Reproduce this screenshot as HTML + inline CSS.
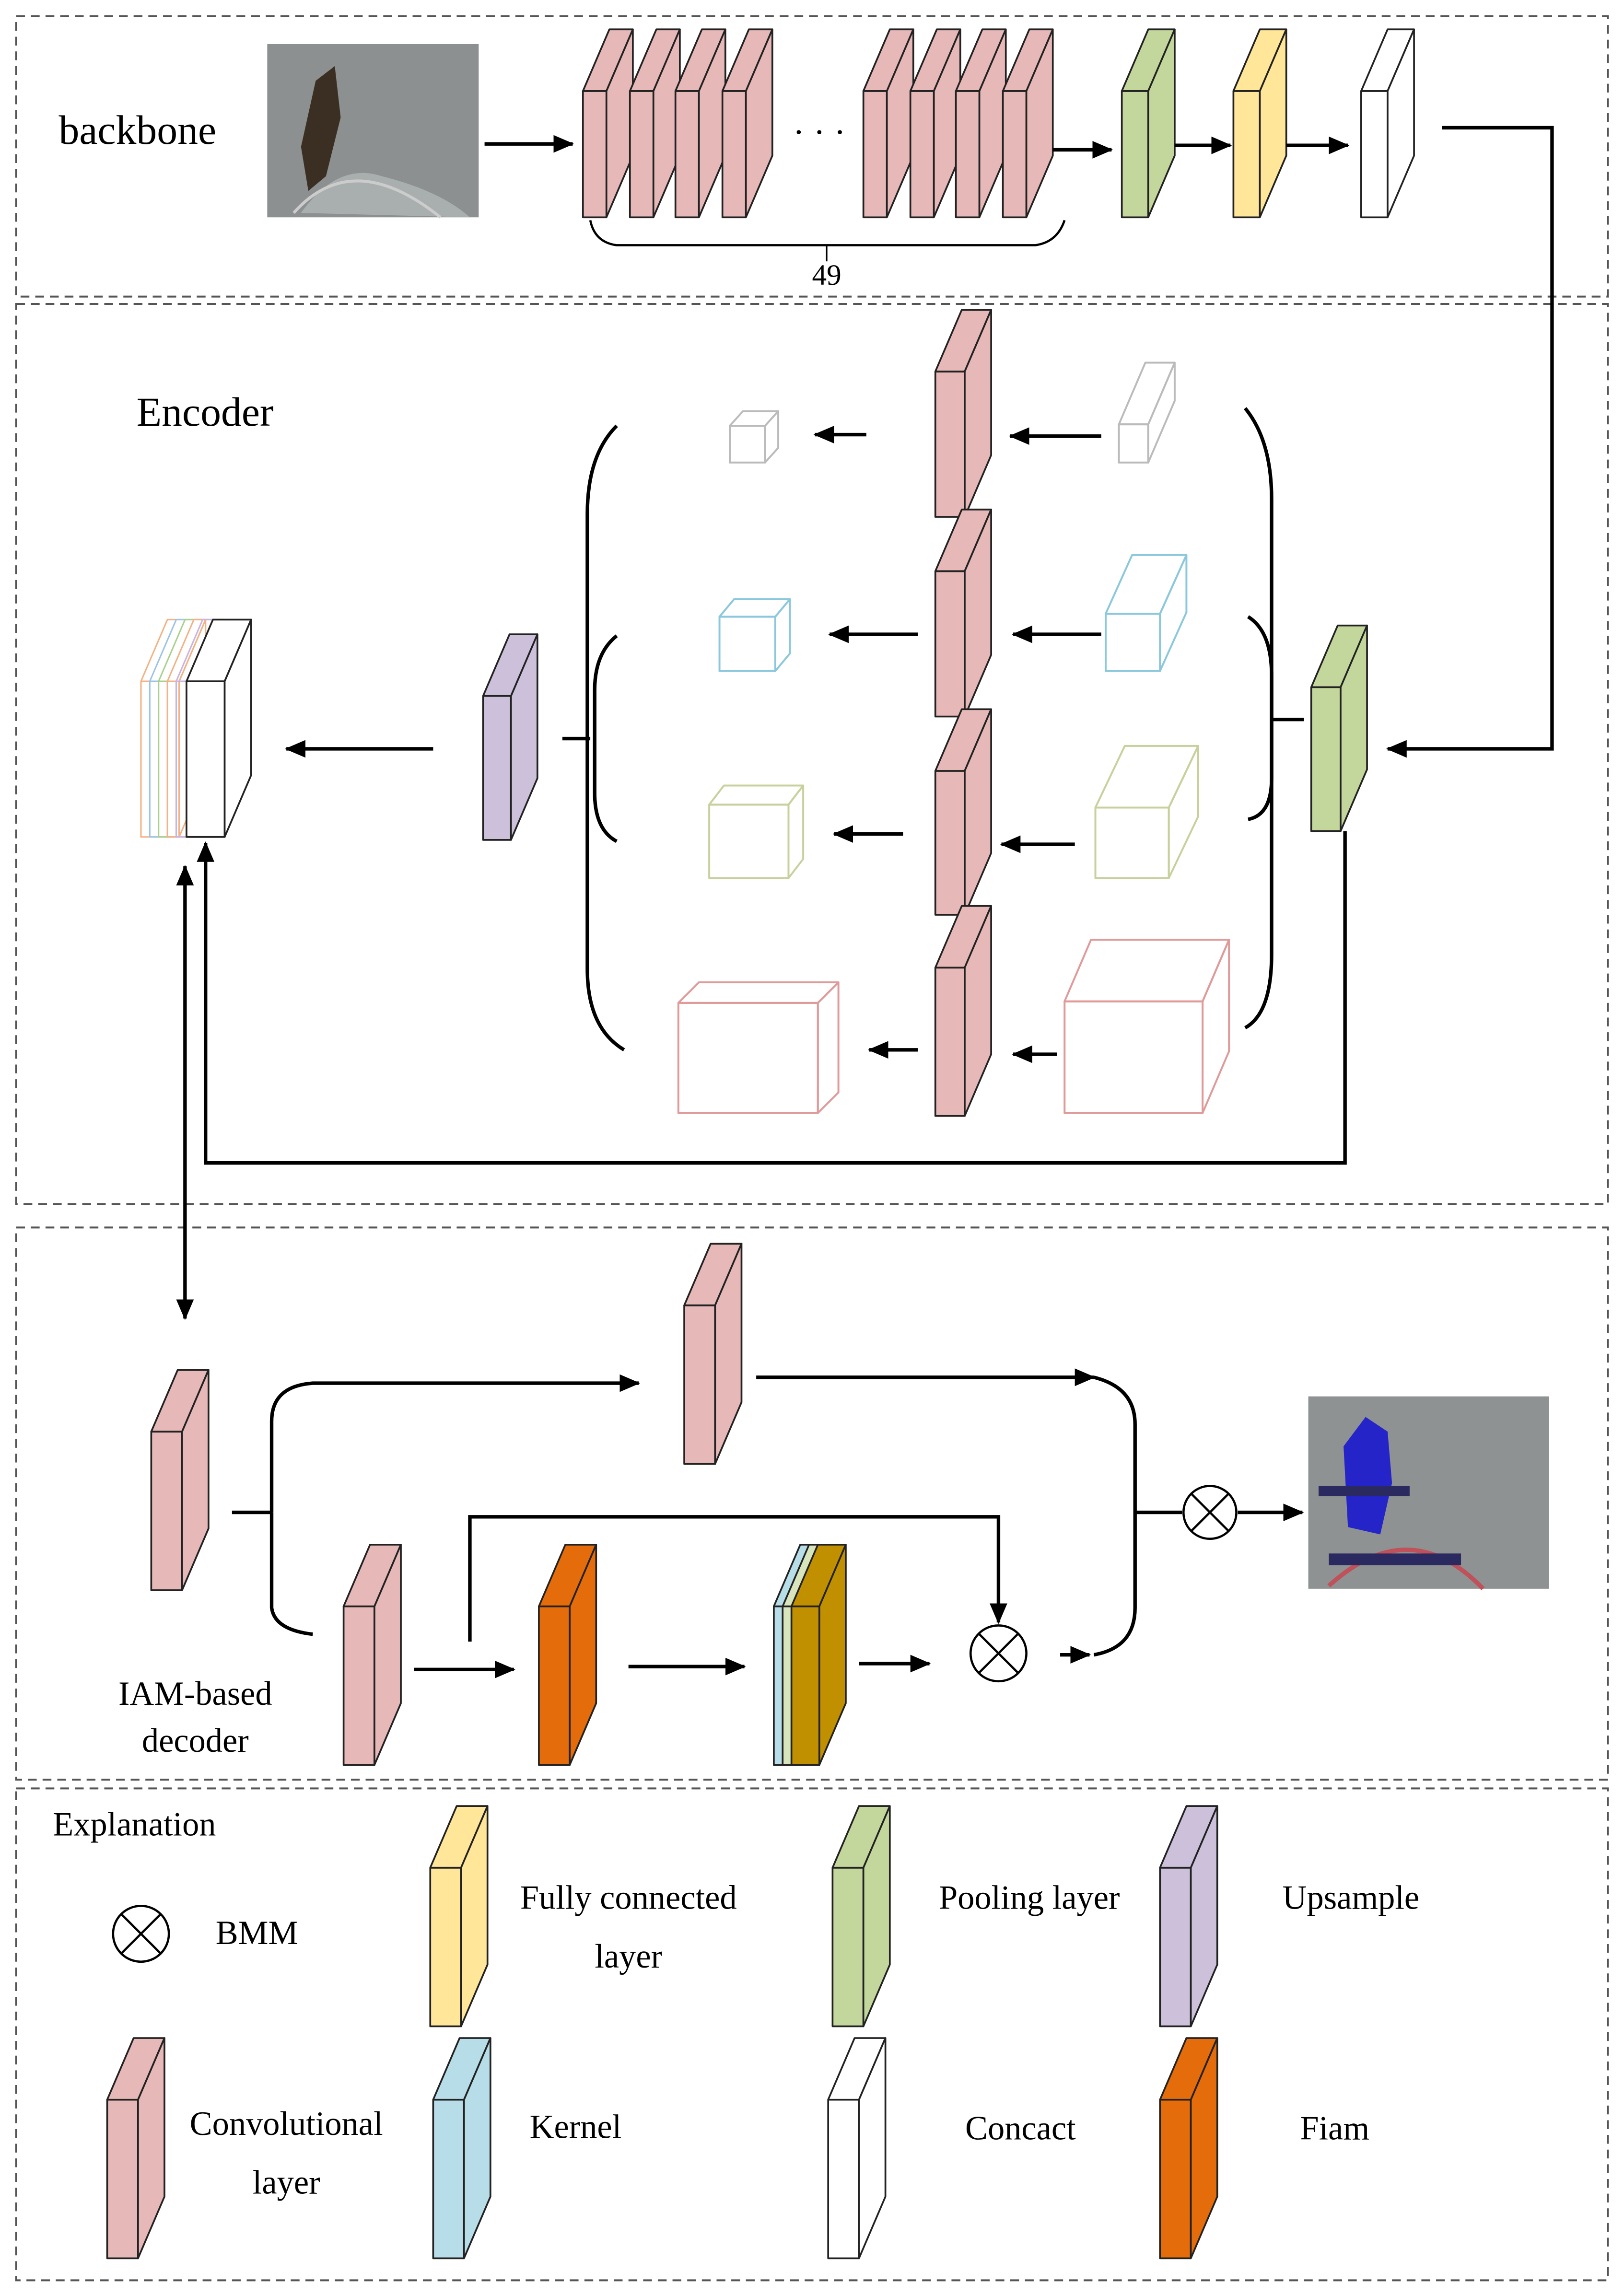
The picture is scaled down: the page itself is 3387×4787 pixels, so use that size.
<!DOCTYPE html>
<html><head><meta charset="utf-8"><style>html,body{margin:0;padding:0;background:#fff}svg{display:block}</style></head>
<body>
<svg id="s" xmlns="http://www.w3.org/2000/svg" width="3387" height="4787" viewBox="0 0 1106 1563" preserveAspectRatio="none" font-family="Liberation Serif, serif">
<defs>
<marker id="a" markerWidth="10" markerHeight="10" refX="9" refY="5" orient="auto" markerUnits="userSpaceOnUse" viewBox="0 0 10 10"><path d="M0,0 L10,5 L0,10 z" fill="#000"/></marker>
<marker id="a2" markerWidth="14" markerHeight="14" refX="13" refY="7" orient="auto" markerUnits="userSpaceOnUse" viewBox="0 0 14 14"><path d="M0,1 L14,7 L0,13 z" fill="#000"/></marker>
</defs>
<g fill="none" stroke="#555" stroke-width="1.3" stroke-dasharray="6,4">
<rect x="11" y="11" width="1084" height="191"/>
<rect x="11" y="207" width="1084" height="613"/>
<rect x="11" y="836" width="1084" height="376"/>
<rect x="11" y="1218" width="1084" height="335"/>
</g>
<!-- images -->
<rect x="182" y="30" width="144" height="118" fill="#8c9090"/>
<path d="M205,145 Q230,110 260,120 Q300,130 320,148 Z" fill="#a9aeae"/>
<path d="M215,55 L228,45 L232,80 L222,120 L210,130 L205,100 Z" fill="#3b2e22"/>
<path d="M200,145 Q240,100 300,148" stroke="#ccc" fill="none" stroke-width="2"/>
<rect x="891" y="951" width="164" height="131" fill="#8e9292"/>
<path d="M915,985 L930,965 L945,975 L948,1010 L940,1045 L918,1040 Z" fill="#2424c8"/>
<path d="M905,1080 Q960,1030 1010,1082" stroke="#c0505a" fill="none" stroke-width="3"/>
<rect x="905" y="1058" width="90" height="8" fill="#2a2a60"/>
<rect x="898" y="1012" width="62" height="7" fill="#2a2a60"/>
<g id="shapes"></g>
<g fill="none" stroke="#000" stroke-width="2.4">
<line x1="330" y1="98" x2="390" y2="98" marker-end="url(#a2)"/>
<line x1="717" y1="102" x2="757" y2="102" marker-end="url(#a2)"/>
<line x1="800" y1="99" x2="838" y2="99" marker-end="url(#a2)"/>
<line x1="876" y1="99" x2="918" y2="99" marker-end="url(#a2)"/>
<polyline points="982,87 1057,87 1057,510 945,510" marker-end="url(#a2)"/>
<path d="M402,150 Q405,165 420,167 L705,167 Q720,165 725,150" stroke-width="1.5"/>
<line x1="563" y1="167" x2="563" y2="178" stroke-width="1"/>
<line x1="590" y1="296" x2="555" y2="296" marker-end="url(#a2)"/>
<line x1="750" y1="297" x2="688" y2="297" marker-end="url(#a2)"/>
<line x1="625" y1="432" x2="565" y2="432" marker-end="url(#a2)"/>
<line x1="750" y1="432" x2="690" y2="432" marker-end="url(#a2)"/>
<line x1="615" y1="568" x2="568" y2="568" marker-end="url(#a2)"/>
<line x1="732" y1="575" x2="682" y2="575" marker-end="url(#a2)"/>
<line x1="625" y1="715" x2="592" y2="715" marker-end="url(#a2)"/>
<line x1="720" y1="718" x2="690" y2="718" marker-end="url(#a2)"/>
<path d="M420,290 Q400,310 400,350 L400,660 Q400,700 425,715"/>
<path d="M420,433 Q405,445 405,470 L405,540 Q405,565 420,573"/>
<line x1="383" y1="503" x2="402" y2="503"/>
<path d="M848,278 Q866,300 866,340 L866,650 Q866,690 848,700"/>
<path d="M850,420 Q866,430 866,460 L866,530 Q866,555 850,558"/>
<line x1="866" y1="490" x2="888" y2="490"/>
<line x1="295" y1="510" x2="195" y2="510" marker-end="url(#a2)"/>
<polyline points="916,566 916,792 140,792 140,574" marker-end="url(#a2)"/>
<line x1="126" y1="600" x2="126" y2="898" marker-end="url(#a2)"/>
<line x1="126" y1="600" x2="126" y2="590" marker-end="url(#a2)"/>
<line x1="158" y1="1030" x2="185" y2="1030"/>
<path d="M185,1030 L185,968 Q185,944 213,942 L435,942" marker-end="url(#a2)"/>
<path d="M185,1030 L185,1095 Q187,1110 213,1113"/>
<line x1="515" y1="938" x2="745" y2="938" marker-end="url(#a2)"/>
<path d="M745,938 Q773,945 773,970 L773,1095 Q773,1122 745,1127"/>
<line x1="722" y1="1127" x2="742" y2="1127" marker-end="url(#a2)"/>
<line x1="773" y1="1030" x2="805" y2="1030"/>
<line x1="843" y1="1030" x2="887" y2="1030" marker-end="url(#a2)"/>
<line x1="282" y1="1137" x2="350" y2="1137" marker-end="url(#a2)"/>
<line x1="428" y1="1135" x2="507" y2="1135" marker-end="url(#a2)"/>
<line x1="585" y1="1133" x2="633" y2="1133" marker-end="url(#a2)"/>
<polyline points="320,1118 320,1033 680,1033 680,1105" marker-end="url(#a2)"/>
</g>
<g fill="#fff" stroke="#000" stroke-width="1.5">
<circle cx="824" cy="1030" r="18"/><circle cx="680" cy="1126" r="19"/><circle cx="96" cy="1317" r="19"/>
</g>
<g stroke="#000" stroke-width="1.5">
<path d="M811,1017 L837,1043 M837,1017 L811,1043"/>
<path d="M667,1113 L693,1139 M693,1113 L667,1139"/>
<path d="M83,1304 L109,1330 M109,1304 L83,1330"/>
</g>
<g font-size="28" fill="#000">
<text x="40" y="98">backbone</text>
<text x="93" y="290">Encoder</text>
<text x="540" y="98" font-size="24">· · ·</text>
<text x="563" y="194" font-size="20" text-anchor="middle">49</text>
</g>
<g font-size="23" fill="#000" text-anchor="middle">
<text x="133" y="1161">IAM-based</text>
<text x="133" y="1193">decoder</text>
<text x="36" y="1250" text-anchor="start">Explanation</text>
<text x="175" y="1324">BMM</text>
<text x="428" y="1300">Fully connected</text>
<text x="428" y="1340">layer</text>
<text x="701" y="1300">Pooling  layer</text>
<text x="920" y="1300">Upsample</text>
<text x="195" y="1454">Convolutional</text>
<text x="195" y="1494">layer</text>
<text x="392" y="1456">Kernel</text>
<text x="695" y="1457">Concact</text>
<text x="909" y="1457">Fiam</text>
</g>
</svg>
<script>
var g=document.getElementById('shapes'),NS='http://www.w3.org/2000/svg';
function poly(p,f,s,sw){var e=document.createElementNS(NS,'polygon');e.setAttribute('points',p.map(function(q){return q.join(',')}).join(' '));e.setAttribute('fill',f);e.setAttribute('stroke',s);e.setAttribute('stroke-width',sw||1.2);e.setAttribute('stroke-linejoin','round');g.appendChild(e);}
function box(x,y,W,H,f,dx,dy,s,sw){dx=dx||18;dy=dy||42;s=s||'#222';var fw=W-dx;
poly([[x,y+dy],[x+fw,y+dy],[x+fw,y+H],[x,y+H]],f,s,sw);
poly([[x,y+dy],[x+dx,y],[x+W,y],[x+fw,y+dy]],f,s,sw);
poly([[x+fw,y+dy],[x+W,y],[x+W,y+H-dy],[x+fw,y+H]],f,s,sw);}
function cube(x,y,W,H,c,dx,dy){box(x,y,W,H,'none',dx,dy,c,1.3);}
var P='#e6b8b7',G='#c3d69b',Y='#ffe699',Wt='#fff',U='#ccc0da',O='#e46c0a',B='#b7dde8';
[397,429,460,492,588,620,651,683].forEach(function(x){box(x,20,34,128,P);});
box(764,20,36,128,G);box(840,20,36,128,Y);box(927,20,36,128,Wt);
[[211,352],[347,488],[483,623],[617,760]].forEach(function(r){box(637,r[0],38,r[1]-r[0],P);});
cube(497,280,33,35,'#bbb',9,10);cube(762,247,38,68,'#bbb',18,42);
cube(490,408,48,49,'#8cc8dc',10,12);cube(753,378,55,79,'#8cc8dc',18,40);
cube(483,535,64,63,'#c8d09c',10,13);cube(746,508,70,90,'#c8d09c',20,42);
cube(462,669,109,89,'#e09a9a',14,14);cube(725,640,112,118,'#e09a9a',18,42);
box(893,426,38,140,G);box(329,432,37,140,U);
['#f4b183','#9dc3e6','#a9d18e','#f4b183','#c9b3e0'].forEach(function(c,i){box(96+i*6,422,44,148,'none',18,42,c,1);});
box(127,422,44,148,Wt);
box(103,933,39,150,P);box(466,847,39,150,P);box(234,1052,39,150,P);box(367,1052,39,150,O);
box(527,1052,39,150,B);box(533,1052,39,150,'#d8e4bc');box(539,1052,37,150,'#c09000');
box(293,1230,39,150,Y);box(567,1230,39,150,G);box(790,1230,39,150,U);
box(73,1388,39,150,P);box(295,1388,39,150,B);box(564,1388,39,150,Wt);box(790,1388,39,150,O);
</script>
</body></html>
